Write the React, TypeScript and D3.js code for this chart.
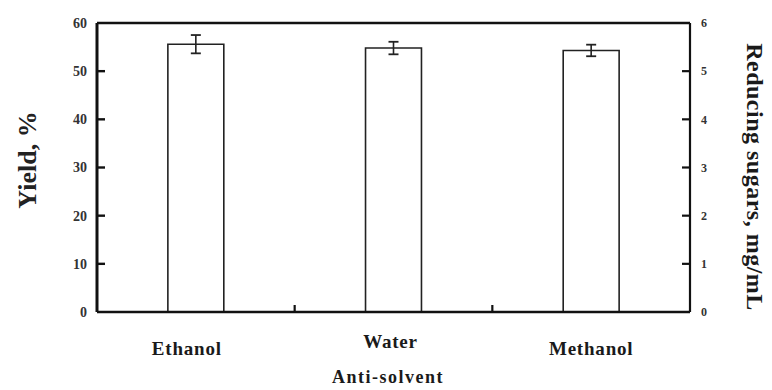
import React from "react";
import * as d3 from "d3";

// Yield (%) for each anti-solvent, with standard deviation
const categories = ["Ethanol", "Water", "Methanol"];
const yieldValues = [55.6, 54.8, 54.3];
const yieldErrors = [1.9, 1.3, 1.2];
const leftTicks = [0, 10, 20, 30, 40, 50, 60];
const rightTicks = [0, 1, 2, 3, 4, 5, 6];

const W = 772;
const H = 390;
const M = { left: 97, right: 690, top: 23, bottom: 312 };
const FONT = "'Liberation Serif', 'Times New Roman', serif";

export default function App() {
  const pad = 0.717;
  const x = d3
    .scaleBand<string>()
    .domain(categories)
    .range([M.left, M.right])
    .paddingInner(pad)
    .paddingOuter(pad / 2);
  const y = d3.scaleLinear().domain([0, 60]).range([M.bottom, M.top]);
  const yr = d3.scaleLinear().domain([0, 6]).range([M.bottom, M.top]);
  const step = x.step();
  const boundaries = categories.slice(1).map((c) => (x(c) as number) - (step * pad) / 2);
  const labelDx = [-9, -3, 0];
  const labelY = [355, 348, 355];

  return (
    <svg
      width={W}
      height={H}
      style={{ position: "absolute", left: 0, top: 0, background: "#fff" }}
      fontFamily={FONT}
    >
      {/* bars */}
      {categories.map((c, i) => {
        const bx = x(c) as number;
        const cx = bx + x.bandwidth() / 2;
        const top = y(yieldValues[i]);
        const e1 = y(yieldValues[i] + yieldErrors[i]);
        const e2 = y(yieldValues[i] - yieldErrors[i]);
        return (
          <g key={c}>
            <path
              d={`M${bx},${M.bottom} V${top} H${bx + x.bandwidth()} V${M.bottom}`}
              fill="none"
              stroke="#222"
              strokeWidth={1.6}
            />
            <line x1={cx} x2={cx} y1={e1} y2={e2} stroke="#222" strokeWidth={1.6} />
            <line x1={cx - 5} x2={cx + 5} y1={e1} y2={e1} stroke="#222" strokeWidth={1.8} />
            <line x1={cx - 5} x2={cx + 5} y1={e2} y2={e2} stroke="#222" strokeWidth={1.8} />
          </g>
        );
      })}

      {/* frame */}
      <line x1={M.left} x2={M.left} y1={M.top} y2={M.bottom} stroke="#111" strokeWidth={3} />
      <line x1={M.left} x2={M.right} y1={M.bottom} y2={M.bottom} stroke="#111" strokeWidth={2.6} />
      <line x1={M.left} x2={M.right} y1={M.top} y2={M.top} stroke="#111" strokeWidth={2.4} />
      <line x1={M.right} x2={M.right} y1={M.top} y2={M.bottom} stroke="#111" strokeWidth={2.2} />

      {/* category boundary ticks */}
      {boundaries.map((bx, i) => (
        <line key={i} x1={bx} x2={bx} y1={M.bottom} y2={M.bottom - 7} stroke="#111" strokeWidth={2.2} />
      ))}

      {/* left axis */}
      {leftTicks.map((t) => (
        <g key={t}>
          {t > 0 && t < 60 && (
            <line x1={M.left} x2={M.left + 8} y1={y(t)} y2={y(t)} stroke="#111" strokeWidth={2.4} />
          )}
          <text
            x={M.left - 10}
            y={y(t)}
            dy="0.35em"
            textAnchor="end"
            fontSize={14}
            fontWeight="bold"
            fill="#333"
          >
            {t}
          </text>
        </g>
      ))}

      {/* right axis */}
      {rightTicks.map((t) => (
        <g key={t}>
          {t > 0 && t < 6 && (
            <line x1={M.right} x2={M.right - 8} y1={yr(t)} y2={yr(t)} stroke="#111" strokeWidth={2.2} />
          )}
          <text
            x={M.right + 11}
            y={yr(t)}
            dy="0.35em"
            textAnchor="start"
            fontSize={12}
            fontWeight="bold"
            fill="#333"
          >
            {t}
          </text>
        </g>
      ))}

      {/* category labels */}
      {categories.map((c, i) => (
        <text
          key={c}
          x={(x(c) as number) + x.bandwidth() / 2 + labelDx[i]}
          y={labelY[i]}
          textAnchor="middle"
          fontSize={19}
          fontWeight="bold"
          fill="#1a1a1a"
          letterSpacing={0.8}
        >
          {c}
        </text>
      ))}

      {/* axis titles */}
      <text x={388} y={383} textAnchor="middle" fontSize={18} fontWeight="bold" fill="#1a1a1a" letterSpacing={1.5}>
        Anti-solvent
      </text>
      <text
        transform={`translate(36,160) rotate(-90)`}
        textAnchor="middle"
        fontSize={26}
        fontWeight="bold"
        fill="#222"
      >
        Yield, %
      </text>
      <text
        transform={`translate(747,177) rotate(90)`}
        textAnchor="middle"
        fontSize={24}
        fontWeight="bold"
        fill="#1a1a1a"
        letterSpacing={0.5}
      >
        Reducing sugars, mg/mL
      </text>
    </svg>
  );
}
